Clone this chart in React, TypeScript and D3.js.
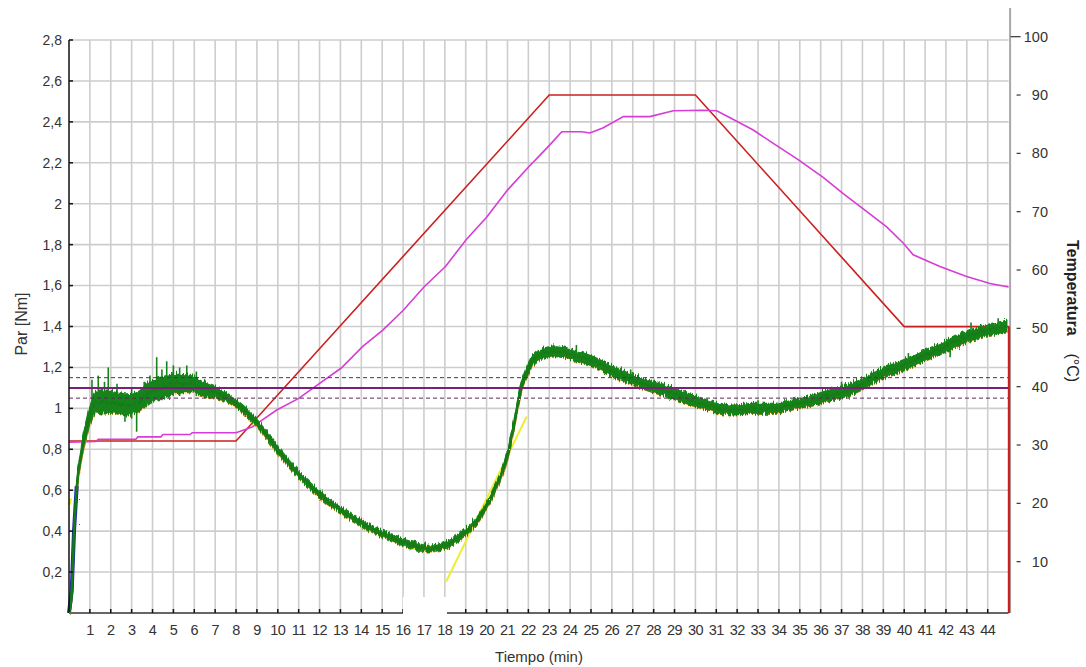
import React from 'react';
import * as d3 from 'd3';

// ---- Data ----
const timeTicks = [1,2,3,4,5,6,7,8,9,10,11,12,13,14,15,16,17,18,19,20,21,22,23,24,25,26,27,28,29,30,31,32,33,34,35,36,37,38,39,40,41,42,43,44];
const torqueTicks = [0.2,0.4,0.6,0.8,1,1.2,1.4,1.6,1.8,2,2.2,2.4,2.6,2.8];
const tempTicks = [10,20,30,40,50,60,70,80,90,100];

// Torque (Par, Nm) - green curve: time, mean value, noise half-width
const torqueT = [0,0.13,0.24,0.37,0.61,0.93,1.33,1.6,2.12,2.76,3.24,3.88,4.52,5.16,5.8,6.43,7.07,7.71,8.35,8.99,9.79,10.74,11.7,12.66,13.62,14.57,15.53,16.49,17.13,17.93,18.73,19.36,20.0,20.64,21.0,21.4,21.6,21.9,22.2,22.56,23.36,24.15,25.11,26.07,27.03,27.98,28.94,29.9,30.86,31.82,32.77,33.73,34.69,35.65,36.45,37.25,38.04,39.0,39.96,40.91,41.71,42.67,43.79,44.91];
const torqueV = [0,0.11,0.4,0.62,0.8,0.95,1.04,1.04,1.04,1.025,1.035,1.09,1.11,1.13,1.13,1.105,1.085,1.055,1.005,0.94,0.835,0.715,0.617,0.536,0.471,0.414,0.373,0.341,0.325,0.337,0.381,0.438,0.536,0.67,0.78,0.98,1.09,1.18,1.24,1.27,1.29,1.27,1.237,1.188,1.147,1.114,1.082,1.049,1.017,1.0,1.008,1.008,1.03,1.05,1.075,1.095,1.131,1.18,1.22,1.265,1.3,1.345,1.383,1.408];
const torqueN = [0,0.01,0.015,0.02,0.03,0.04,0.05,0.055,0.05,0.05,0.05,0.05,0.05,0.045,0.04,0.032,0.025,0.02,0.018,0.017,0.017,0.016,0.015,0.015,0.015,0.015,0.015,0.015,0.015,0.015,0.015,0.015,0.015,0.015,0.017,0.017,0.02,0.022,0.024,0.025,0.025,0.025,0.025,0.025,0.025,0.025,0.025,0.025,0.025,0.025,0.025,0.025,0.025,0.025,0.025,0.025,0.026,0.026,0.026,0.026,0.026,0.026,0.026,0.026];

// Noise spikes on the torque trace: time, low, high
const spikeT = [1.1,1.4,1.7,1.88,2.3,2.68,3.0,3.24,3.6,3.88,4.2,4.45,4.68,5.0,5.3,5.64,6.1,6.5,24.3,26.9,29.5,33.0,37.0,40.2,42.2,43.2,44.5];
const spikeLo = [0.96,0.98,0.97,0.99,0.97,0.935,0.95,0.886,1.0,1.02,1.05,1.04,1.06,1.07,1.06,1.08,1.06,1.05,1.22,1.12,1.04,0.97,1.07,1.2,1.25,1.34,1.37];
const spikeHi = [1.14,1.16,1.13,1.2,1.12,1.08,1.1,1.08,1.13,1.16,1.25,1.19,1.23,1.21,1.2,1.21,1.18,1.14,1.31,1.19,1.09,1.04,1.13,1.27,1.34,1.42,1.44];

// Set-point temperature (red) on the right axis
const setT = [0,8,23,30,40,45,45];
const setTemp = [30.7,30.7,90,90,50.3,50.3,1.2];

// Measured temperature (magenta) on the right axis
const sampleT = [0,1.3,1.4,3.2,3.3,4.4,4.5,5.8,5.9,8.0,8.77,9.95,11.0,12.02,13.04,14.07,15.03,16.01,17.0,18.03,19.02,20.01,21.0,22.02,22.56,23.04,23.6,24.55,24.95,25.59,26.55,27.82,28.94,30.38,31.02,31.66,32.77,33.73,34.85,36.12,37.08,38.04,39.16,39.96,40.43,41.71,42.99,44.11,45.0];
const sampleTemp = [30.5,30.6,31.0,31.0,31.4,31.4,31.8,31.8,32.1,32.1,33.1,36.0,38.0,40.6,43.2,46.9,49.7,53.1,57.1,60.6,65.2,69.1,73.7,77.7,79.7,81.5,83.7,83.7,83.5,84.4,86.3,86.3,87.3,87.4,87.3,86.1,84.0,81.7,79.1,75.9,73.1,70.5,67.4,64.6,62.6,60.6,58.9,57.7,57.1];

// Yellow tangent line
const tangentT = [18.06, 21.92];
const tangentV = [0.153, 0.96];
// Yellow fragments
const yellowMinT = [16.3, 17.6];
const yellowMinV = [0.318, 0.318];
const yellowStartT = [0, 0.08];
const yellowStartV = [0.53, 0.56];

// Reference levels (Nm)
const refSolid = 1.10;
const refDashed = [1.05, 1.15];

// Blue start segment
const blueT = [0, 0.13, 0.24, 0.37];
const blueV = [0, 0.11, 0.4, 0.62];

const W = 1086, H = 667;
const FONT = '"Liberation Sans", Arial, sans-serif';

export default function App() {
  const x = d3.scaleLinear().domain([0, 45]).range([69, 1008.6]);
  const yL = d3.scaleLinear().domain([0, 2.8]).range([613, 40]);
  const yR = d3.scaleLinear().domain([0, 100]).range([620, 36.7]);

  const idx = (arr: number[]) => arr.map((_, i) => i);

  const lineXY = (ts: number[], vs: number[], ys: d3.ScaleLinear<number, number>) =>
    d3.line<number>().x(i => x(ts[i])).y(i => ys(vs[i]))(idx(ts)) || '';

  const band = d3.area<number>()
    .x(i => x(torqueT[i]))
    .y0(i => yL(torqueV[i] - torqueN[i]))
    .y1(i => yL(torqueV[i] + torqueN[i]))
    .curve(d3.curveMonotoneX)(idx(torqueT)) || '';

  const center = d3.line<number>()
    .x(i => x(torqueT[i]))
    .y(i => yL(torqueV[i]))
    .curve(d3.curveMonotoneX)(idx(torqueT)) || '';

  const orange = d3.line<number>()
    .x(i => x(torqueT[i]))
    .y(i => yL(torqueV[i] - torqueN[i]))
    .curve(d3.curveMonotoneX)(idx(torqueT)) || '';

  const x0 = x(0), x1 = x(45);
  const yTop = yL(2.8), yBot = yL(0);
  const fmt = (v: number) => String(v).replace('.', ',');

  return (
    <svg width={W} height={H} style={{ position: 'absolute', left: 0, top: 0, background: '#fff' }} fontFamily={FONT}>
      <defs>
        <filter id="jag" x="-2%" y="-10%" width="104%" height="120%">
          <feTurbulence type="turbulence" baseFrequency="0.9 0.02" numOctaves={2} seed={3} result="t" />
          <feComponentTransfer in="t" result="t2">
            <feFuncR type="linear" slope={0} intercept={0.5} />
          </feComponentTransfer>
          <feDisplacementMap in="SourceGraphic" in2="t2" scale={7} xChannelSelector="R" yChannelSelector="G" />
        </filter>
      </defs>
      <rect x={0} y={0} width={W} height={H} fill="#fff" />
      {/* grid */}
      <g stroke="#cdcdcd" strokeWidth={1.6}>
        {timeTicks.map(t => (
          <line key={'gx' + t} x1={x(t)} x2={x(t)} y1={yTop} y2={yBot} />
        ))}
        {torqueTicks.map(v => (
          <line key={'gy' + v} x1={x0} x2={x1} y1={yL(v)} y2={yL(v)} />
        ))}
      </g>

      {/* temperature lines */}
      <path d={lineXY(setT, setTemp, yR)} fill="none" stroke="#cc1f1f" strokeWidth={1.6} />
      <path d={lineXY(sampleT, sampleTemp, yR)} fill="none" stroke="#d63cd6" strokeWidth={1.6} />

      {/* yellow tangent */}
      <path d={lineXY(tangentT, tangentV, yL)} fill="none" stroke="#eeee30" strokeWidth={2} />
      <path d={lineXY(yellowMinT, yellowMinV, yL)} fill="none" stroke="#eeee40" strokeWidth={4} />
      <path d={lineXY(yellowStartT, yellowStartV, yL)} fill="none" stroke="#eeee40" strokeWidth={3} />

      {/* torque */}
      <path d={orange} fill="none" stroke="#e08a24" strokeWidth={2.5} filter="url(#jag)" />
      <path d={lineXY(blueT, blueV, yL)} fill="none" stroke="#1a2aa8" strokeWidth={4} />
      <g filter="url(#jag)">
        <path d={band} fill="#17831a" stroke="#17831a" strokeWidth={1.5} />
        <path d={center} fill="none" stroke="#127a14" strokeWidth={2.5} />
      </g>
      <g stroke="#17831a" strokeWidth={1.6}>
        {spikeT.map((t, i) => (
          <line key={'sp' + i} x1={x(t)} x2={x(t)} y1={yL(spikeLo[i])} y2={yL(spikeHi[i])} />
        ))}
      </g>

      {/* reference lines */}
      <line x1={x0} x2={x1} y1={yL(refSolid)} y2={yL(refSolid)} stroke="#7a1f7a" strokeWidth={2} />
      {refDashed.map(v => (
        <line key={'rd' + v} x1={x0} x2={x1} y1={yL(v)} y2={yL(v)} stroke="#5b2a5b" strokeWidth={1} strokeDasharray="4,3" />
      ))}

      {/* left axis */}
      <line x1={x0} x2={x0} y1={yTop} y2={yBot} stroke="#111" strokeWidth={1.5} />
      {torqueTicks.map(v => (
        <g key={'lt' + v}>
          <line x1={x0} x2={x0 + 4} y1={yL(v)} y2={yL(v)} stroke="#111" strokeWidth={1.5} />
          <text x={x0 - 7} y={yL(v)} dy="0.35em" textAnchor="end" fontSize={14} fill="#333">{fmt(v)}</text>
        </g>
      ))}

      {/* bottom axis */}
      <line x1={x0} x2={x1} y1={yBot} y2={yBot} stroke="#666" strokeWidth={2} />
      {timeTicks.map(t => (
        <g key={'bt' + t}>
          <line x1={x(t)} x2={x(t)} y1={yBot} y2={yBot - 4} stroke="#111" strokeWidth={1.5} />
          <text x={x(t)} y={635} textAnchor="middle" fontSize={14.5} fill="#333" letterSpacing={-0.6}>{t}</text>
        </g>
      ))}
      {/* white gap in the bottom axis */}
      <rect x={403} y={597} width={44} height={19} fill="#fff" />

      {/* right axis */}
      <line x1={x1 + 1.5} x2={x1 + 1.5} y1={8} y2={yBot} stroke="#a8a8a8" strokeWidth={2} />
      <line x1={x1 + 0.5} x2={x1 + 0.5} y1={yR(setTemp[4])} y2={yBot} stroke="#cc1f1f" strokeWidth={2} />
      {tempTicks.map(v => (
        <g key={'rt' + v}>
          <line x1={v === 100 ? x1 + 2 : x1 + 8} x2={x1 + 12} y1={yR(v)} y2={yR(v)} stroke="#333" strokeWidth={1.2} />
          <text x={1048} y={yR(v)} dy="0.35em" textAnchor="end" fontSize={14.5} fill="#333">{v}</text>
        </g>
      ))}

      {/* titles */}
      <text x={539} y={662} textAnchor="middle" fontSize={15} fill="#333">Tiempo (min)</text>
      <text transform="translate(27,324) rotate(-90)" textAnchor="middle" fontSize={16} fill="#333">Par [Nm]</text>
      <text transform="translate(1067,311) rotate(90)" textAnchor="middle" fontSize={16} fill="#222" style={{ whiteSpace: 'pre' }}>
        <tspan fontWeight="bold">Temperatura</tspan>
        <tspan>{'    (°C)'}</tspan>
      </text>
    </svg>
  );
}
